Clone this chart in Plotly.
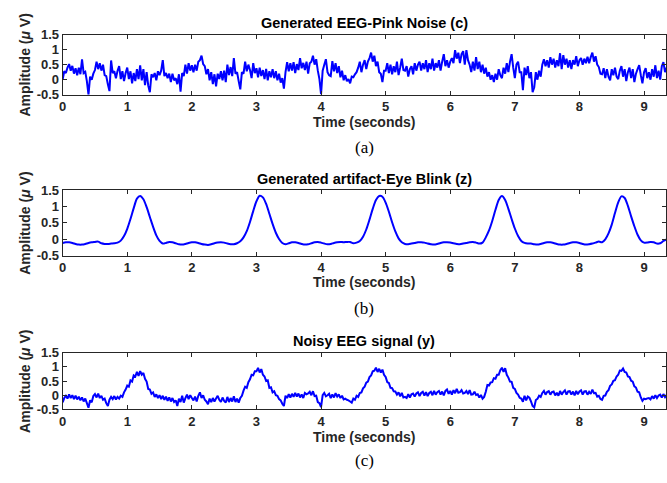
import numpy as np
import plotly.graph_objects as go

# ---- signals (sampled values) ----
PINK_DT = 0.025   # s between samples of the pink-noise and noisy traces
BLINK_DT = 0.05   # s between samples of the blink artifact

# Generated EEG pink noise c (uV)
eeg_pink = [
    0.0, 0.28, 0.22, 0.4, 0.52, 0.3, 0.46, 0.2, 0.38, 0.15,
    0.4, 0.18, 0.68, 0.22, 0.26, -0.05, -0.5, 0.1, 0.0, 0.2,
    0.32, 0.6, 0.35, 0.55, 0.3, 0.5, 0.15, 0.12, -0.15, -0.38,
    0.64, 0.22, 0.28, 0.05, 0.3, 0.45, 0.02, 0.28, -0.05, 0.22,
    0.4, 0.02, 0.28, -0.12, 0.22, -0.05, 0.35, 0.02, 0.48, -0.02,
    0.35, -0.18, 0.25, -0.2, -0.42, 0.18, 0.08, 0.22, -0.02, 0.28,
    0.15, 0.3, 0.65, 0.12, 0.22, 0.05, 0.2, -0.08, 0.2, -0.02,
    0.05, -0.15, 0.18, -0.4, 0.22, 0.12, 0.5, 0.2, 0.55, 0.3,
    0.48, 0.25, 0.5, 0.3, 0.6, 0.65, 0.8, 0.52, 0.45, 0.18,
    0.35, -0.02, 0.25, -0.15, 0.18, -0.22, 0.2, 0.02, 0.28, -0.02,
    0.3, -0.08, 0.5, 0.15, 0.42, 0.12, 0.72, 0.2, 0.25, -0.05,
    -0.32, 0.25, 0.2, 0.6, 0.28, 0.5, 0.32, 0.05, 0.55, 0.22,
    0.38, 0.08, 0.4, 0.12, 0.32, 0.02, 0.36, -0.02, 0.28, 0.08,
    0.35, 0.05, 0.28, -0.02, 0.2, -0.1, 0.05, -0.3, 0.25, 0.58,
    0.28, 0.55, 0.3, 0.58, 0.22, 0.52, 0.32, 0.72, 0.38, 0.56,
    0.32, 0.6, 0.2, 0.55, 0.6, 0.8, 0.5, 0.68, 0.3, 0.02,
    -0.48, 0.3, 0.5, 0.68, 0.25, 0.15, 0.12, 0.62, 0.28, 0.55,
    0.22, 0.45, 0.08, 0.3, -0.02, 0.15, -0.05, 0.02, -0.12, 0.1,
    0.08, 0.18, 0.25, 0.4, 0.6, 0.25, 0.5, 0.65, 0.35, 0.6,
    0.72, 0.9, 0.6, 0.8, 0.45, 0.6, 0.25, 0.2, -0.08, 0.3,
    0.3, 0.55, 0.22, 0.5, 0.18, 0.45, 0.25, 0.6, 0.15, 0.4,
    0.7, 0.32, 0.3, 0.45, 0.1, 0.35, 0.45, 0.18, 0.55, 0.3,
    0.5, 0.6, 0.3, 0.55, 0.35, 0.65, 0.25, 0.55, 0.35, 0.7,
    0.3, 0.55, 0.4, 0.65, 0.3, 0.6, 0.85, 0.45, 0.65, 0.4,
    0.6, 0.72, 0.55, 0.98, 0.7, 0.9, 0.55, 0.85, 0.95, 0.5,
    0.98, 0.65, 0.5, 0.25, 0.6, 0.3, 0.75, 0.35, 0.6, 0.25,
    0.5, 0.2, 0.4, 0.1, 0.25, 0.0, 0.15, -0.08, 0.2, 0.0,
    0.35, 0.15, 0.05, 0.4, 0.2, 0.55, 0.25, 0.6, 0.85, 0.4,
    0.05, 0.5, 0.6, 0.25, 0.25, -0.35, 0.4, 0.15, 0.45, 0.05,
    0.25, -0.42, -0.25, 0.25, 0.0, 0.3, 0.1, 0.5, 0.68, 0.45,
    0.65, 0.4, 0.75, 0.5, 0.7, 0.4, 0.65, 0.45, 0.88, 0.35,
    0.82, 0.5, 0.7, 0.4, 0.65, 0.35, 0.65, 0.5, 0.78, 0.45,
    0.65, 0.72, 0.5, 0.7, 0.55, 0.76, 0.55, 0.75, 0.9, 0.6,
    0.78, 0.5, 0.42, 0.2, 0.18, 0.38, 0.05, 0.35, 0.1, -0.02,
    0.35, 0.15, 0.4, 0.1, 0.02, 0.3, 0.45, 0.1, 0.35, -0.05,
    0.25, 0.4, 0.05, 0.35, -0.08, 0.2, 0.35, 0.48, 0.15, -0.12,
    0.25, 0.38, 0.05, 0.25, 0.0, 0.35, 0.1, 0.48, 0.05, 0.3,
    0.0, 0.45, 0.58, 0.25, 0.4,
]

# Generated eye-blink artifact z (uV)
eye_blink = [
    -0.11, -0.09, -0.09, -0.11, -0.14, -0.16, -0.16, -0.14, -0.11, -0.09,
    -0.08, -0.07, -0.12, -0.14, -0.14, -0.13, -0.12, -0.10, -0.04, 0.10,
    0.32, 0.62, 0.95, 1.24, 1.32, 1.22, 0.98, 0.68, 0.38, 0.12,
    -0.05, -0.13, -0.11, -0.08, -0.09, -0.12, -0.15, -0.16, -0.14, -0.11,
    -0.09, -0.09, -0.11, -0.14, -0.16, -0.17, -0.15, -0.12, -0.10, -0.09,
    -0.10, -0.13, -0.15, -0.15, -0.12, -0.06, 0.06, 0.25, 0.53, 0.86,
    1.16, 1.33, 1.28, 1.08, 0.78, 0.47, 0.20, 0.01, -0.11, -0.15,
    -0.12, -0.09, -0.09, -0.11, -0.14, -0.16, -0.15, -0.12, -0.09, -0.08,
    -0.10, -0.13, -0.15, -0.14, -0.11, -0.09, -0.08, -0.09, -0.08, -0.08,
    -0.12, -0.10, -0.05, 0.08, 0.30, 0.60, 0.93, 1.20, 1.32, 1.30,
    1.12, 0.84, 0.52, 0.24, 0.03, -0.09, -0.14, -0.15, -0.13, -0.11,
    -0.09, -0.09, -0.10, -0.13, -0.15, -0.16, -0.14, -0.11, -0.09, -0.09,
    -0.10, -0.12, -0.14, -0.15, -0.13, -0.11, -0.09, -0.08, -0.10, -0.13,
    -0.10, 0.06, 0.27, 0.56, 0.90, 1.20, 1.32, 1.20, 0.93, 0.62,
    0.33, 0.10, -0.05, -0.11, -0.13, -0.13, -0.15, -0.16, -0.14, -0.11,
    -0.09, -0.09, -0.11, -0.14, -0.16, -0.16, -0.14, -0.11, -0.09, -0.09,
    -0.11, -0.14, -0.16, -0.15, -0.13, -0.10, -0.07, -0.09, 0.00, 0.18,
    0.45, 0.80, 1.13, 1.31, 1.26, 1.02, 0.70, 0.40, 0.14, -0.03,
    -0.10, -0.10, -0.08, -0.09, -0.13, -0.12, -0.05, 0.00,
]

# Noisy EEG signal y (uV)
noisy_eeg = [
    -0.25, -0.1, -0.02, -0.12, 0.03, -0.1, 0.0, -0.14, -0.02, -0.15,
    -0.05, -0.18, -0.08, -0.22, -0.12, -0.28, -0.44, -0.18, -0.25, -0.03,
    0.04, -0.08, 0.06, -0.1, -0.02, -0.16, -0.12, -0.28, -0.38, -0.16,
    -0.06, -0.14, -0.03, -0.15, -0.06, -0.12, -0.02, -0.06, 0.1, 0.2,
    0.34, 0.3, 0.52, 0.48, 0.7, 0.66, 0.82, 0.68, 0.85, 0.72,
    0.78, 0.58, 0.48, 0.22, 0.2, 0.05, 0.1, -0.06, 0.03, -0.1,
    0.0, -0.14, -0.02, -0.16, -0.05, -0.2, -0.08, -0.22, -0.1, -0.24,
    -0.18, -0.38, -0.12, -0.24, -0.02, -0.26, -0.1, 0.02, -0.14, 0.0,
    -0.1, -0.18, -0.05, -0.22, -0.02, 0.1, -0.1, 0.0, -0.16, -0.22,
    -0.32, -0.12, -0.24, -0.1, -0.22, -0.12, -0.02, -0.16, -0.24, -0.08,
    -0.2, -0.26, -0.06, -0.24, -0.1, -0.22, -0.04, -0.24, -0.12, -0.26,
    -0.1, -0.02, 0.16, 0.3, 0.26, 0.46, 0.56, 0.72, 0.7, 0.84,
    0.84, 0.96, 0.8, 0.92, 0.72, 0.66, 0.5, 0.52, 0.26, 0.28,
    0.1, 0.14, 0.0, -0.02, -0.14, -0.18, -0.3, -0.38, -0.02, -0.1,
    0.04, -0.08, 0.05, -0.06, 0.08, -0.05, 0.06, -0.08, 0.03, -0.1,
    0.08, 0.03, 0.06, 0.12, 0.0, 0.14, -0.03, -0.02, -0.24, -0.28,
    -0.42, 0.0, 0.08, -0.04, 0.0, 0.05, -0.1, 0.03, -0.08, 0.07,
    -0.05, 0.03, -0.1, -0.02, -0.15, -0.12, -0.16, -0.18, -0.22, -0.26,
    -0.12, -0.16, -0.02, -0.06, 0.08, 0.1, 0.24, 0.3, 0.44, 0.48,
    0.64, 0.7, 0.84, 0.86, 0.97, 0.82, 0.93, 0.8, 0.9, 0.72,
    0.64, 0.46, 0.43, 0.26, 0.25, 0.14, 0.13, 0.02, 0.1, -0.04,
    0.08, -0.08, -0.06, -0.1, 0.04, -0.08, 0.03, 0.06, -0.05, 0.06,
    0.1, -0.03, 0.08, 0.12, -0.01, 0.11, -0.03, 0.08, 0.12, 0.0,
    0.15, 0.02, 0.11, 0.15, 0.02, 0.13, -0.01, 0.15, 0.2, 0.05,
    0.15, 0.02, 0.18, 0.07, 0.22, 0.09, 0.11, 0.18, 0.06, 0.08,
    0.15, 0.04, 0.18, 0.02, 0.03, 0.12, 0.01, 0.03, -0.08, 0.01,
    -0.12, -0.06, 0.12, 0.36, 0.34, 0.45, 0.46, 0.6, 0.58, 0.72,
    0.72, 0.88, 0.97, 0.82, 0.95, 0.72, 0.62, 0.48, 0.47, 0.26,
    0.22, 0.08, 0.02, -0.09, -0.12, -0.23, -0.02, -0.18, -0.05, -0.09,
    -0.22, -0.38, -0.43, -0.17, -0.13, -0.02, -0.06, 0.08, 0.15, 0.02,
    0.11, 0.14, 0.02, 0.11, 0.13, -0.01, 0.09, -0.02, 0.15, 0.02,
    0.11, 0.17, 0.02, 0.13, 0.14, 0.02, 0.13, -0.01, 0.15, 0.03,
    0.13, 0.17, 0.02, 0.13, 0.14, 0.02, 0.12, 0.05, 0.2, 0.07,
    0.08, -0.05, -0.02, -0.13, -0.16, -0.02, -0.01, 0.12, 0.18, 0.33,
    0.38, 0.51, 0.53, 0.66, 0.72, 0.87, 0.86, 0.94, 0.82, 0.8,
    0.66, 0.64, 0.51, 0.48, 0.31, 0.27, 0.12, 0.1, -0.08, -0.2,
    -0.12, -0.14, -0.11, -0.1, -0.15, -0.03, -0.12, 0.0, -0.1, -0.01,
    0.02, -0.08, 0.04, -0.07, 0.01,
]

x_ticks = [0, 1, 2, 3, 4, 5, 6, 7, 8, 9]
y_ticks = [-0.5, 0, 0.5, 1, 1.5]
y_tick_text = ["-0.5", "0", "0.5", "1", "1.5"]

titles = ["Generated EEG-Pink Noise (c)",
          "Generated artifact-Eye Blink (z)",
          "Noisy EEG signal (y)"]
captions = ["(a)", "(b)", "(c)"]

# ---- page geometry (pixels) ----
W, H = 667, 483
PLOT_LEFT, PLOT_RIGHT = 59, 666
# top / bottom pixel of each panel's frame
panel_px = [(28.5, 90.5), (189.0, 256.7), (356.7, 415.3)]
title_y = [17, 178, 345]
xlabel_y = [119, 284, 444]
caption_y = [145, 311, 468]
X_MAX = 9.34

def fx(px):
    return px / W

def fy(px):
    return 1 - px / H

SANS = "Liberation Sans, Arial, Helvetica, sans-serif"
SERIF = "Liberation Serif, Times New Roman, serif"
AX_COLOR = "#262626"
BLUE = "#0000FF"

traces = [
    (np.arange(len(eeg_pink)) * PINK_DT, eeg_pink, "linear"),
    (np.arange(len(eye_blink)) * BLINK_DT, eye_blink, "spline"),
    (np.arange(len(noisy_eeg)) * PINK_DT, noisy_eeg, "linear"),
]

fig = go.Figure()
annotations = []
cx = (PLOT_LEFT + PLOT_RIGHT) / 2

for i, (t, v, shape) in enumerate(traces):
    k = "" if i == 0 else str(i + 1)
    fig.add_trace(go.Scatter(
        x=t, y=v, mode="lines", xaxis="x" + k, yaxis="y" + k,
        line=dict(color=BLUE, width=2, shape=shape, smoothing=0.8,
                  simplify=False),
        showlegend=False, hoverinfo="skip",
    ))
    top, bot = panel_px[i]
    axis_common = dict(
        showline=True, linecolor=AX_COLOR, linewidth=1, mirror="ticks",
        ticks="inside", ticklen=4, tickwidth=1, tickcolor=AX_COLOR,
        showgrid=False, zeroline=False,
        tickfont=dict(family=SANS, size=13, color=AX_COLOR, weight="bold"),
    )
    fig.update_layout(**{
        "xaxis" + k: dict(
            domain=[fx(PLOT_LEFT), fx(PLOT_RIGHT)], range=[0, X_MAX],
            anchor="y" + k, tickvals=x_ticks,
            ticktext=[str(v_) for v_ in x_ticks], **axis_common),
        "yaxis" + k: dict(
            domain=[fy(bot), fy(top)], range=[-0.5, 1.5],
            anchor="x" + k, tickvals=y_ticks, ticktext=y_tick_text,
            **axis_common),
    })
    annotations += [
        dict(text="<b>" + titles[i] + "</b>", x=fx(cx), y=fy(title_y[i]),
             xref="paper", yref="paper", showarrow=False,
             xanchor="center", yanchor="middle",
             font=dict(family=SANS, size=14.5, color="black")),
        dict(text="<b>Time (seconds)</b>", x=fx(cx), y=fy(xlabel_y[i]),
             xref="paper", yref="paper", showarrow=False,
             xanchor="center", yanchor="middle",
             font=dict(family=SANS, size=14, color=AX_COLOR)),
        dict(text="<b>Amplitude (<i>\u03bc</i> V)</b>", x=fx(21),
             y=fy((top + bot) / 2), xref="paper", yref="paper",
             showarrow=False, textangle=-90, xanchor="center",
             yanchor="middle",
             font=dict(family=SANS, size=14, color=AX_COLOR)),
        dict(text=captions[i], x=fx(cx), y=fy(caption_y[i]),
             xref="paper", yref="paper", showarrow=False,
             xanchor="center", yanchor="middle",
             font=dict(family=SERIF, size=17, color="black")),
    ]

fig.update_layout(
    width=W, height=H,
    margin=dict(l=0, r=0, t=0, b=0),
    paper_bgcolor="white", plot_bgcolor="white",
    annotations=annotations,
)

fig.write_html("out.html")
